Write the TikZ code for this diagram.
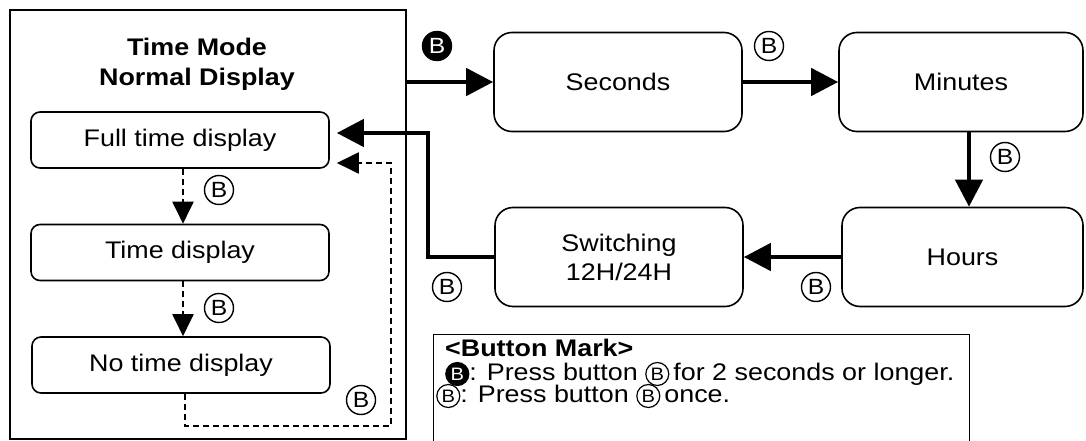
\documentclass[tikz,border=0pt]{standalone}
\usepackage{fontspec}
\setmainfont{Liberation Sans}[FakeStretch=1.12]
\usetikzlibrary{arrows.meta, positioning, calc}
\tikzset{
  caja/.style={draw, line width=1.6pt, rounded corners=9pt, align=center, inner sep=0pt, font=\fontsize{24}{29}\selectfont},
  cajachica/.style={caja, minimum width=298pt, minimum height=56pt},
  cajagrande/.style={caja, rounded corners=18pt, minimum width=248pt, minimum height=99pt},
  marca/.style={circle, draw, line width=1.4pt, inner sep=0pt, minimum size=29pt, font=\fontsize{22}{22}\selectfont},
  marcallena/.style={marca, fill=black, text=white},
  flecha/.style={-{Triangle[length=27pt, width=27pt]}, line width=4.5pt},
  punteada/.style={-{Triangle[length=22pt, width=21pt]}, line width=2pt, dash pattern=on 6pt off 4pt},
  leyenda/.style={anchor=west, inner sep=0pt, font=\fontsize{24}{21}\selectfont},
}
\newcommand{\keyB}{\tikz[baseline=(m.base)]\node[marca, minimum size=23pt, line width=1.2pt, font=\fontsize{18}{18}\selectfont] (m) {B};}
\newcommand{\keyBfill}{\tikz[baseline=(m.base)]\node[marcallena, minimum size=23pt, line width=1.2pt, font=\fontsize{18}{18}\selectfont] (m) {B};}

\begin{document}
\begin{tikzpicture}[x=1pt, y=-1pt]
  \useasboundingbox (0,0) rectangle (1086,441);
  % time mode frame
  \node[draw, line width=2.6pt, minimum width=396pt, minimum height=429pt, inner sep=0pt] (modo) at (208,224.5) {};
  \node[align=center, font=\bfseries\fontsize{24}{30}\selectfont] (titulo) at (197,64) {Time Mode\\Normal Display};
  \node[cajachica] (full) at (180,140) {Full time display};
  \node[cajachica] (tdisp) at (180,252.5) {Time display};
  \node[cajachica] (notime) at (181,365) {No time display};
  % setting sequence
  \node[cajagrande] (sec) at (618,82) {Seconds};
  \node[cajagrande, minimum width=244pt] (min) at (961,82) {Minutes};
  \node[cajagrande, minimum width=241pt] (hrs) at (962.5,257) {Hours};
  \node[cajagrande] (sw) at (619,257) {Switching\\12H/24H};
  \coordinate (giro) at (428,133);
  \coordinate (esq) at (391,426);
  \draw[flecha] (modo.east |- sec.west) -- (sec.west);
  \draw[flecha] (sec) -- (min);
  \draw[flecha] ([xshift=8pt]min.south) -- ([xshift=8pt]min.south |- hrs.north);
  \draw[flecha] (hrs.west) -- (hrs.west -| sw.east);
  \draw[flecha] (sw.west) -| (giro) -- ([xshift=7pt,yshift=7pt]full.east);
  \draw[punteada] ([xshift=3pt]full.south) -- ([xshift=3pt]tdisp.north);
  \draw[punteada] ([xshift=3pt]tdisp.south) -- ([xshift=2pt]notime.north);
  \draw[punteada] ([xshift=4pt]notime.south) |- (esq) |- ([xshift=7pt,yshift=-23pt]full.east);
  % button marks
  \node[marcallena] (k0) at (437,46) {B};
  \node[marca] (k1) at (769,46) {B};
  \node[marca] (k2) at (1005,157) {B};
  \node[marca] (k3) at (816,287) {B};
  \node[marca] (k4) at (447,287) {B};
  \node[marca] (k5) at (219,190) {B};
  \node[marca] (k6) at (219,308) {B};
  \node[marca] (k7) at (361,400) {B};
  % legend
  \node[draw, line width=1.4pt, minimum width=536pt, minimum height=140pt, anchor=north west, inner sep=0pt] (ley) at (433,334) {};
  \node[leyenda, font=\bfseries\fontsize{24}{25}\selectfont] (leytit) at (445,348) {<Button Mark>};
  \node[leyenda] (ley1) at (445,374) {\keyBfill: Press button \keyB\,for 2 seconds or longer.};
  \node[leyenda] (ley2) at (436,396) {\keyB: Press button \keyB\,once.};
\end{tikzpicture}
\end{document}
